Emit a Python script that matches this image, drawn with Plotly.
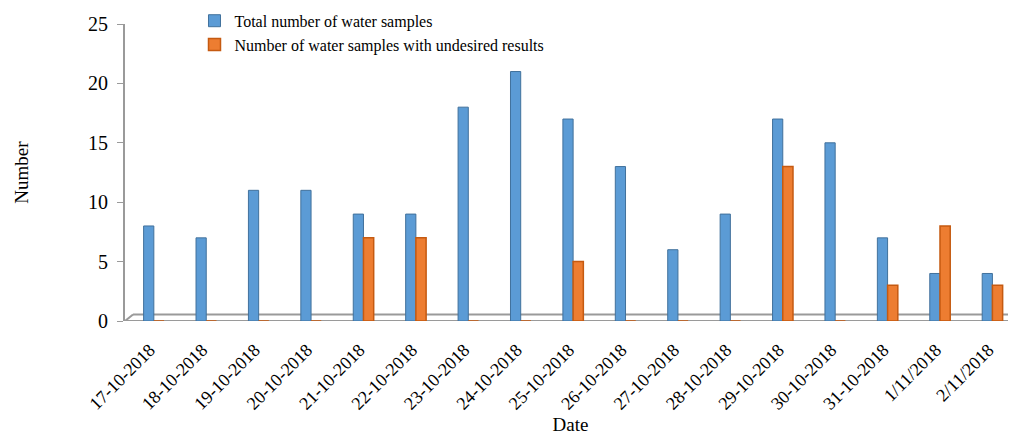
import plotly.graph_objects as go

dates = ["17-10-2018", "18-10-2018", "19-10-2018", "20-10-2018", "21-10-2018",
         "22-10-2018", "23-10-2018", "24-10-2018", "25-10-2018", "26-10-2018",
         "27-10-2018", "28-10-2018", "29-10-2018", "30-10-2018", "31-10-2018",
         "1/11/2018", "2/11/2018"]
total_samples = [8, 7, 11, 11, 9, 9, 18, 21, 17, 13, 6, 9, 17, 15, 7, 4, 4]
undesired_samples = [0, 0, 0, 0, 7, 7, 0, 0, 5, 0, 0, 0, 13, 0, 3, 8, 3]
y_ticks = [0, 5, 10, 15, 20, 25]

FONT = "Liberation Serif, Times New Roman, serif"
GREY = "#9a9a9a"
BLUE = "#5B9BD5"
ORANGE = "#ED7D31"

fig = go.Figure()
fig.add_trace(go.Bar(
    x=dates, y=total_samples, name="Total number of water samples",
    marker=dict(color=BLUE, line=dict(color="#41719C", width=1)),
))
fig.add_trace(go.Bar(
    x=dates, y=undesired_samples,
    name="Number of water samples with undesired results",
    marker=dict(color=ORANGE, line=dict(color="#C55A11", width=1.5)),
))

# page has an 8px body margin, so the figure is 8px smaller than the window
fig.update_layout(
    width=1008, height=427,
    margin=dict(l=117, r=0, t=16, b=114, autoexpand=False),
    paper_bgcolor="white", plot_bgcolor="white",
    barmode="group", bargap=0.61, bargroupgap=0.0,
    font=dict(family=FONT, color="black"),
    showlegend=True,
    legend=dict(
        x=0.078, y=1.068, xanchor="left", yanchor="top",
        font=dict(family=FONT, size=16), bgcolor="rgba(0,0,0,0)",
        itemwidth=30, tracegroupgap=0,
    ),
    xaxis=dict(
        type="category", range=[-0.55, 16.45], automargin=False,
        tickangle=-45, tickfont=dict(family=FONT, size=18),
        ticklabelstandoff=14, ticklabelshift=-4,
        showline=False, ticks="", showgrid=False, zeroline=False,
        title=dict(text="Date", font=dict(family=FONT, size=19), standoff=10),
    ),
    yaxis=dict(
        range=[0, 25], tickvals=y_ticks, ticks="outside", ticklen=6,
        tickcolor=GREY, tickwidth=1, showline=True, linecolor=GREY, linewidth=2,
        tickfont=dict(family=FONT, size=20), showgrid=False, zeroline=False,
        ticklabelstandoff=5, automargin=False,
        title=dict(text="Number", font=dict(family=FONT, size=19), standoff=54),
    ),
)

# 3D floor outline
fig.add_shape(type="line", xref="paper", yref="y", x0=0, x1=1, y0=0, y1=0,
              line=dict(color=GREY, width=2), layer="below")
fig.add_shape(type="line", xref="paper", yref="y", x0=0.009, x1=1, y0=0.55, y1=0.55,
              line=dict(color=GREY, width=2), layer="below")
fig.add_shape(type="line", xref="paper", yref="y", x0=0, x1=0.009, y0=0, y1=0.55,
              line=dict(color=GREY, width=2), layer="below")

fig.write_html("out.html")
